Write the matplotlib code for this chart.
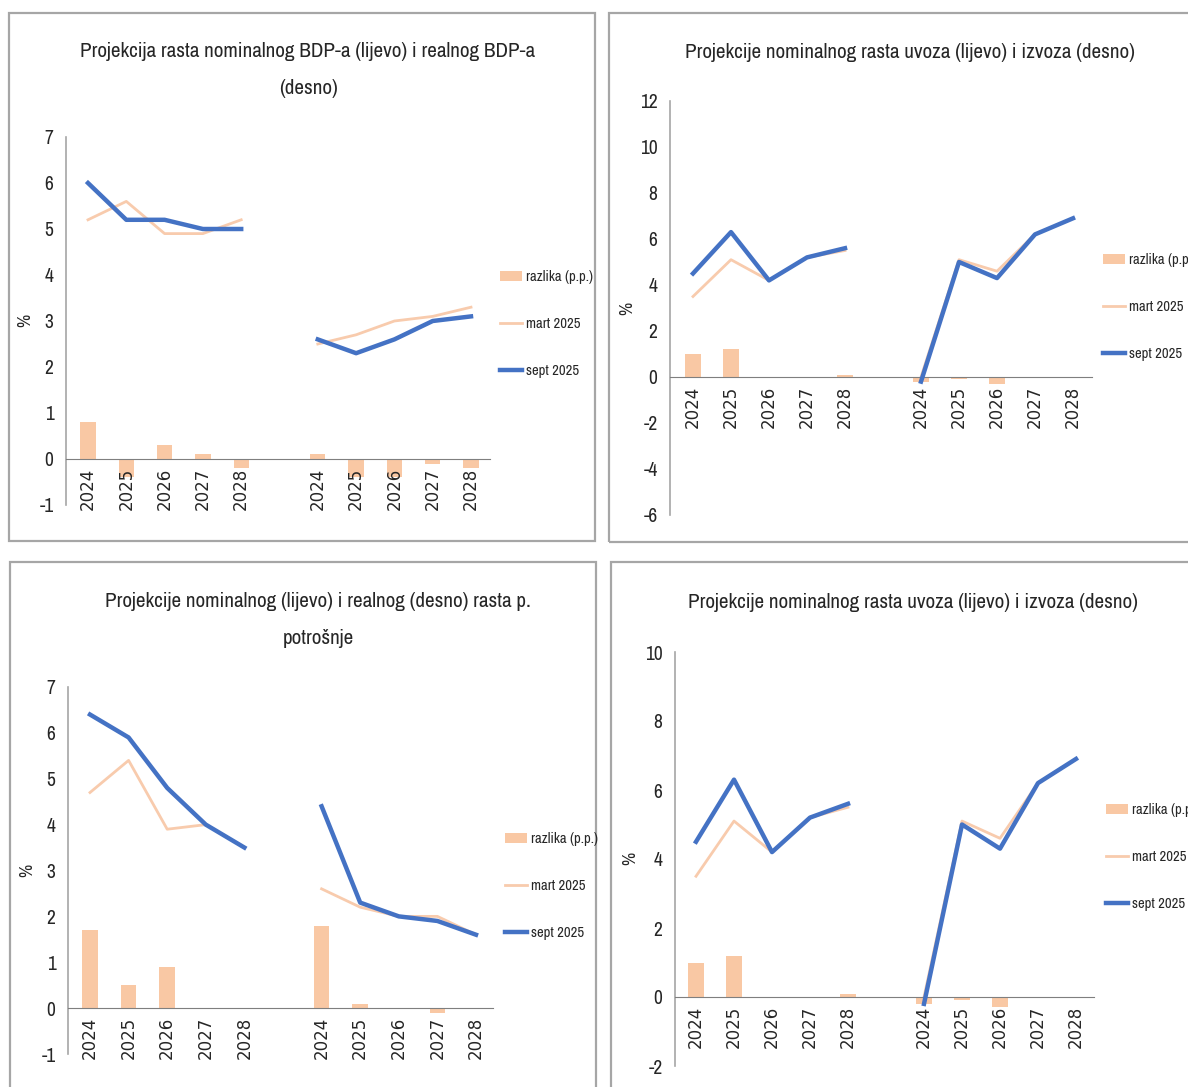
import numpy as np
import matplotlib.pyplot as plt
import matplotlib.font_manager as fm
from matplotlib.patches import Rectangle

years = ["2024", "2025", "2026", "2027", "2028"]

# Panel 1: nominal GDP (left) and real GDP (right)
gdp_nom_sept = [6.0, 5.2, 5.2, 5.0, 5.0]
gdp_nom_mart = [5.2, 5.6, 4.9, 4.9, 5.2]
gdp_real_sept = [2.6, 2.3, 2.6, 3.0, 3.1]
gdp_real_mart = [2.5, 2.7, 3.0, 3.1, 3.3]

# Panel 2 / 4: nominal imports (left) and exports (right)
imp_sept = [4.5, 6.3, 4.2, 5.2, 5.6]
imp_mart = [3.5, 5.1, 4.2, 5.2, 5.5]
exp_sept = [-0.2, 5.0, 4.3, 6.2, 6.9]
exp_mart = [0.0, 5.1, 4.6, 6.2, 6.9]

# Panel 3: nominal (left) and real (right) personal consumption
cons_nom_sept = [6.4, 5.9, 4.8, 4.0, 3.5]
cons_nom_mart = [4.7, 5.4, 3.9, 4.0, 3.5]
cons_real_sept = [4.4, 2.3, 2.0, 1.9, 1.6]
cons_real_mart = [2.6, 2.2, 2.0, 2.0, 1.6]

titles = [
    "Projekcija rasta nominalnog BDP-a (lijevo) i realnog BDP-a\n(desno)",
    "Projekcije nominalnog rasta uvoza (lijevo) i izvoza (desno)",
    "Projekcije nominalnog (lijevo) i realnog (desno) rasta p.\npotrošnje",
    "Projekcije nominalnog rasta uvoza (lijevo) i izvoza (desno)",
]


# the scan uses a narrow font, pick one that is installed
def pick_narrow():
    names = {f.name for f in fm.fontManager.ttflist}
    for name in ["Archivo Narrow", "Liberation Sans Narrow"]:
        if name in names:
            return name
    for name in sorted(names):
        if "Narrow" in name or "Condensed" in name:
            return name
    return "DejaVu Sans"


NARROW = pick_narrow()
plt.rcParams['font.family'] = [NARROW, 'DejaVu Sans']
plt.rcParams['axes.unicode_minus'] = False

W, H = 1188, 1087
fig = plt.figure(figsize=(W / 100, H / 100), dpi=100)

BLUE = "#4472C4"
PEACH_LINE = "#F8CBAD"
PEACH_BAR = "#F9C8A4"
TXT = "#262626"

# layout in pixels: axis x, first cat, last cat, axis end, y top, y bottom
layout = [
    dict(ax_x=66, c0=88, c10=471, end=490, ytop=137, ybot=505, ylim=(-1, 7), step=1,
         frame=(9, 13, 595, 541), title_xy=(308, 70), leg=(500, 324), pct=(33, 320)),
    dict(ax_x=670, c0=693, c10=1073, end=1092, ytop=101, ybot=515, ylim=(-6, 12), step=2,
         frame=(609, 13, 1195, 542), title_xy=(910, 53), leg=(1103, 307), pct=(635, 308)),
    dict(ax_x=68, c0=90, c10=476, end=493, ytop=687, ybot=1054, ylim=(-1, 7), step=1,
         frame=(10, 562, 596, 1095), title_xy=(318, 620), leg=(505, 886), pct=(35, 870)),
    dict(ax_x=675, c0=696, c10=1076, end=1094, ytop=652, ybot=1066, ylim=(-2, 10), step=2,
         frame=(611, 562, 1195, 1095), title_xy=(913, 603), leg=(1106, 857), pct=(638, 858)),
]

series = [
    (gdp_nom_sept, gdp_nom_mart, gdp_real_sept, gdp_real_mart),
    (imp_sept, imp_mart, exp_sept, exp_mart),
    (cons_nom_sept, cons_nom_mart, cons_real_sept, cons_real_mart),
    (imp_sept, imp_mart, exp_sept, exp_mart),
]

labels = years + [""] + years
xpos = np.arange(len(labels))

for lay, (ls, lm, rs, rm), title in zip(layout, series, titles):
    # panel frame
    x0, y0, x1, y1 = lay["frame"]
    fig.patches.append(Rectangle((x0 / W, 1 - y1 / H), (x1 - x0) / W, (y1 - y0) / H,
                                 transform=fig.transFigure, fill=False,
                                 edgecolor="#A6A6A6", linewidth=1.6))

    ax_w = lay["end"] - lay["ax_x"]
    ax_h = lay["ybot"] - lay["ytop"]
    ax = fig.add_axes([lay["ax_x"] / W, 1 - lay["ybot"] / H, ax_w / W, ax_h / H])
    sp = (lay["c10"] - lay["c0"]) / 10
    ax.set_xlim((lay["ax_x"] - lay["c0"]) / sp, (lay["end"] - lay["c0"]) / sp)
    ax.set_ylim(*lay["ylim"])

    sept = np.array(ls + [np.nan] + rs)
    mart = np.array(lm + [np.nan] + rm)
    diff = np.round(np.nan_to_num(sept - mart), 2)

    b = ax.bar(xpos, diff, width=0.4, color=PEACH_BAR, zorder=1)
    lm_, = ax.plot(xpos, mart, color=PEACH_LINE, lw=2, zorder=2)
    ls_, = ax.plot(xpos, sept, color=BLUE, lw=3.2, zorder=3)

    ax.set_xticks(xpos)
    ax.set_xticklabels(labels)
    ax.set_yticks(np.arange(lay["ylim"][0], lay["ylim"][1] + 0.1, lay["step"]))
    ax.tick_params(axis="both", length=0, colors=TXT)
    ax.tick_params(axis="y", labelsize=14, pad=9)
    ax.tick_params(axis="x", pad=6, labelrotation=90, labelsize=12,
                   labelfontfamily="DejaVu Sans")

    for s in ["top", "right"]:
        ax.spines[s].set_visible(False)
    ax.spines["bottom"].set_position(("data", 0))
    ax.spines["bottom"].set_color("#7F7F7F")
    ax.spines["left"].set_color("#A6A6A6")
    ax.spines["left"].set_linewidth(1.2)
    ax.set_ylabel("%", fontsize=13, color=TXT)
    px, py = lay["pct"]
    ax.yaxis.set_label_coords((px - lay["ax_x"]) / ax_w, (lay["ybot"] - py) / ax_h)

    tx, ty = lay["title_xy"]
    fig.text(tx / W, 1 - ty / H, title, ha="center", va="center", fontsize=15.2,
             color=TXT, linespacing=2.15)

    lx, ly = lay["leg"]
    fig.legend([b, lm_, ls_], ["razlika (p.p.)", "mart 2025", "sept 2025"],
               loc="center left", bbox_to_anchor=(lx / W, 1 - ly / H), frameon=False,
               fontsize=10.5, labelspacing=2.25, handlelength=1.5, handletextpad=0.3,
               borderpad=0, borderaxespad=0, labelcolor=TXT)

fig.savefig("out.png", dpi=100, facecolor="white")
